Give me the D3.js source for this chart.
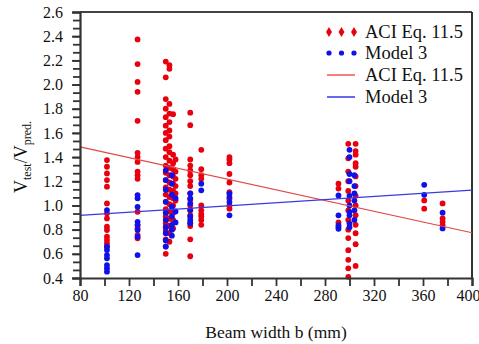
<!DOCTYPE html>
<html>
<head>
<meta charset="utf-8">
<script src="https://cdn.jsdelivr.net/npm/d3@7"></script>
<style>
  html, body { margin: 0; padding: 0; background: #fff; }
  svg { display: block; }
  svg text { font-family: "Liberation Serif", "Times New Roman", serif !important; }
</style>
</head>
<body>
<svg id="chart" width="479" height="344"></svg>
<script>
// ---- data ----
const xTickValues = [80, 100, 120, 140, 160, 180, 200, 220, 240, 260, 280, 300, 320, 340, 360, 380, 400];
const yTickValues = [0.4, 0.6, 0.8, 1.0, 1.2, 1.4, 1.6, 1.8, 2.0, 2.2, 2.4, 2.6];
const seriesNames = ["ACI Eq. 11.5", "Model 3"];

// ACI Eq. 11.5 : [beam width b, list of Vtest/Vpred]
const aciColumns = [
  [102, [1.375, 1.32, 1.265, 1.21, 1.155, 1.017, 0.935, 0.893, 0.824, 0.797, 0.741, 0.714, 0.687, 0.66]],
  [127, [2.373, 2.169, 2.022, 1.94, 1.70, 1.435, 1.40, 1.36, 1.28, 1.25, 1.22, 0.948, 0.838, 0.81, 0.755, 0.728]],
  [150, [2.19, 2.06, 1.88, 1.80, 1.73, 1.66, 1.60, 1.54, 1.47, 1.40, 1.33, 1.27, 1.21, 1.15, 1.09, 1.03, 0.97, 0.91, 0.85, 0.79, 0.72, 0.66, 0.60]],
  [153, [2.16, 2.13, 1.84, 1.76, 1.69, 1.62, 1.57, 1.49, 1.44, 1.37, 1.31, 1.25, 1.19, 1.13, 1.07, 1.01, 0.95, 0.89, 0.83, 0.77, 0.70]],
  [156, [1.755, 1.42, 1.35, 1.30, 1.24, 1.18, 1.12, 1.06, 1.00, 0.94, 0.88, 0.81]],
  [158, [1.38, 1.28, 1.22, 1.16, 1.10, 1.04]],
  [170, [1.767, 1.664, 1.38, 1.33, 1.29, 1.25, 1.20, 1.16, 1.10, 1.05, 1.00, 0.96, 0.92, 0.86, 0.83, 0.72, 0.58]],
  [179, [1.46, 1.30, 1.25, 1.22, 1.00, 0.96, 0.93, 0.91, 0.88, 0.84]],
  [202, [1.40, 1.38, 1.35, 1.26, 1.19, 1.11, 1.055, 1.00, 0.973]],
  [291, [1.18, 1.14, 0.86, 0.82]],
  [299, [1.51, 1.39, 1.28, 1.20, 1.12, 1.04, 0.96, 0.88, 0.80, 0.73, 0.63, 0.55, 0.48, 0.41]],
  [305, [1.51, 1.45, 1.42, 1.35, 1.32, 1.24, 1.16, 1.08, 1.00, 0.92, 0.84, 0.77, 0.68, 0.50]],
  [361, [1.042, 0.973]],
  [376, [1.017, 0.893, 0.865, 0.838]]
];

// Model 3
const model3Columns = [
  [102, [0.962, 0.659, 0.631, 0.59, 0.563, 0.507, 0.48, 0.452]],
  [127, [1.086, 1.059, 0.989, 0.865, 0.838, 0.797, 0.741, 0.59]],
  [150, [1.29, 1.21, 1.13, 1.03, 0.94, 0.88, 0.82, 0.77, 0.71, 0.66]],
  [155, [1.25, 1.18, 1.09, 0.99, 0.91, 0.84, 0.80, 0.75]],
  [158, [1.06, 0.95, 0.86]],
  [170, [1.10, 1.059, 1.017, 0.962, 0.907, 0.879, 0.852]],
  [179, [1.18, 1.125]],
  [202, [1.097, 1.069, 1.028, 0.918]],
  [291, [1.083, 0.918, 0.836, 0.807]],
  [300, [1.46, 1.40, 1.26, 1.20, 1.08, 1.00, 0.945, 0.918, 0.85, 0.82]],
  [304, [1.25, 1.16, 1.10, 1.04, 0.96, 0.88]],
  [361, [1.171, 1.088]],
  [376, [0.94, 0.81]]
];

// fitted trend lines (end points)
const aciFitB = [80, 400];
const aciFitV = [1.485, 0.774];
const model3FitB = [80, 400];
const model3FitV = [0.918, 1.127];

// ---- drawing ----
const svg = d3.select("#chart");
const mLeft = 80, mRight = 472, mTop = 12, mBottom = 278;
const FONT = "'Liberation Serif', 'Times New Roman', serif";

const x = d3.scaleLinear().domain([80, 400]).range([mLeft, mRight]);
const y = d3.scaleLinear().domain([0.4, 2.6]).range([mBottom, mTop]);

const flat = cols => cols.flatMap(([b, vs]) => vs.map(v => ({b, v})));
const aciPts = flat(aciColumns);
const m3Pts = flat(model3Columns);

const red = "#e8000e", blue = "#1010e8";

// frame (top & right)
svg.append("line").attr("x1", mLeft).attr("x2", mRight).attr("y1", mTop).attr("y2", mTop)
  .attr("stroke", "#444").attr("stroke-width", 2);
svg.append("line").attr("x1", mRight).attr("x2", mRight).attr("y1", mTop).attr("y2", mBottom)
  .attr("stroke", "#333").attr("stroke-width", 2);

// points
svg.append("g").selectAll("circle").data(aciPts).join("circle")
  .attr("cx", d => x(d.b)).attr("cy", d => y(d.v)).attr("r", 2.9).attr("fill", red);
svg.append("g").selectAll("circle").data(m3Pts).join("circle")
  .attr("cx", d => x(d.b)).attr("cy", d => y(d.v)).attr("r", 2.9).attr("fill", blue);

// trend lines
const line = d3.line().x(d => x(d[0])).y(d => y(d[1]));
svg.append("path").datum(aciFitB.map((b, i) => [b, aciFitV[i]]))
  .attr("d", line).attr("fill", "none").attr("stroke", "#e04848").attr("stroke-width", 1.2);
svg.append("path").datum(model3FitB.map((b, i) => [b, model3FitV[i]]))
  .attr("d", line).attr("fill", "none").attr("stroke", "#3a3ae0").attr("stroke-width", 1.2);

// axes
const yMinor = d3.range(0, 34).map(i => 0.4 + i * 0.2 / 3).filter(v => v <= 2.6001);
const yAxis = d3.axisLeft(y).tickValues(yTickValues).tickSize(8).tickPadding(9)
  .tickFormat(d3.format(".1f"));
const gy = svg.append("g").attr("transform", `translate(${mLeft},0)`).call(yAxis);
svg.append("g").attr("transform", `translate(${mLeft},0)`)
  .call(d3.axisLeft(y).tickValues(yMinor).tickSize(7).tickFormat(""))
  .call(g => g.select(".domain").remove())
  .selectAll("line").attr("stroke", "#333").attr("stroke-width", 1.8);

const xAxis = d3.axisBottom(x).tickValues(xTickValues).tickSize(8).tickPadding(4)
  .tickFormat(d => d % 40 === 0 ? d : "");
const gx = svg.append("g").attr("transform", `translate(0,${mBottom})`).call(xAxis);

[gx, gy].forEach(g => {
  g.attr("font-family", FONT).attr("font-size", 16);
  g.select(".domain").attr("stroke", "#333").attr("stroke-width", 2.2);
  g.selectAll(".tick line").attr("stroke", "#333").attr("stroke-width", 1.8);
  g.selectAll("text").attr("fill", "#111");
});
// keep the last x label inside the picture
gx.selectAll(".tick text").filter(d => d === 400).attr("dx", -4);

// axis titles
svg.append("text").attr("x", 276).attr("y", 338).attr("text-anchor", "middle")
  .attr("font-family", FONT).attr("font-size", 17.5).attr("fill", "#111").text("Beam width b (mm)");

const yt = svg.append("text").attr("transform", "translate(27,157) rotate(-90)")
  .attr("text-anchor", "middle").attr("font-family", FONT).attr("font-size", 18).attr("fill", "#111");
yt.append("tspan").text("V");
yt.append("tspan").attr("font-size", 12).attr("dy", 4).text("test");
yt.append("tspan").attr("dy", -4).text("/V");
yt.append("tspan").attr("font-size", 12).attr("dy", 4).text("pred.");

// legend
const lg = svg.append("g");
const rowsY = [32, 53, 75, 97];
const symX = [329, 341.5, 354];
symX.forEach(sx => {
  lg.append("path").attr("d", d3.symbol(d3.symbolDiamond, 30)())
    .attr("transform", `translate(${sx},${rowsY[0]})`).attr("fill", red);
  lg.append("circle").attr("cx", sx).attr("cy", rowsY[1]).attr("r", 2.6).attr("fill", blue);
});
lg.append("line").attr("x1", 327).attr("x2", 355).attr("y1", rowsY[2]).attr("y2", rowsY[2])
  .attr("stroke", "#f06060").attr("stroke-width", 1.6);
lg.append("line").attr("x1", 327).attr("x2", 355).attr("y1", rowsY[3]).attr("y2", rowsY[3])
  .attr("stroke", "#6868f0").attr("stroke-width", 2);
[seriesNames[0], seriesNames[1], seriesNames[0], seriesNames[1]].forEach((t, i) => {
  lg.append("text").attr("x", 365).attr("y", rowsY[i] + 6)
    .attr("font-family", FONT).attr("font-size", 18.5)
    .attr("fill", "#111").text(t);
});
</script>
</body>
</html>
